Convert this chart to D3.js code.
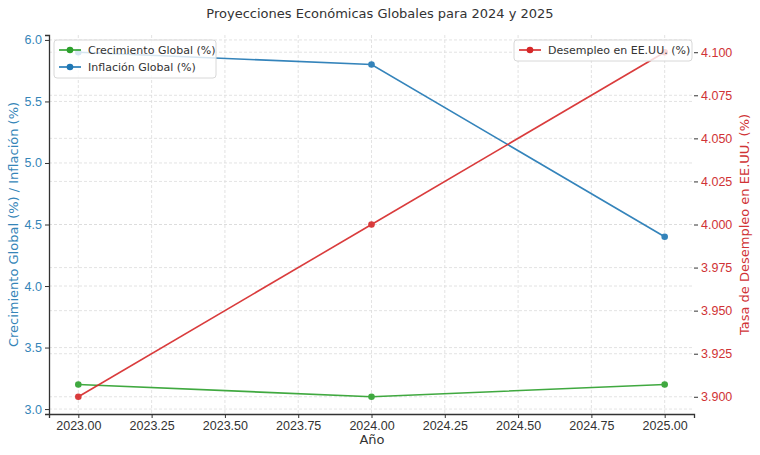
<!DOCTYPE html>
<html><head><meta charset="utf-8">
<script src="https://cdn.jsdelivr.net/npm/d3@7"></script>
<style>body{margin:0;background:#fff}svg{font-family:"DejaVu Sans",sans-serif}</style>
</head><body><svg id="c" width="760" height="455"></svg>
<script>
const years = [2023, 2024, 2025];
const growth = [3.2, 3.1, 3.2];
const inflation = [5.9, 5.8, 4.4];
const unemployment = [3.9, 4.0, 4.1];
const xTicks = [2023, 2023.25, 2023.5, 2023.75, 2024, 2024.25, 2024.5, 2024.75, 2025];
const leftTicks = [3.0, 3.5, 4.0, 4.5, 5.0, 5.5, 6.0];
const rightTicks = [3.900, 3.925, 3.950, 3.975, 4.000, 4.025, 4.050, 4.075, 4.100];

const svg = d3.select("#c");
const L = 49, R = 694, T = 35, B = 414;
const x = d3.scaleLinear().domain([2022.9, 2025.1]).range([L, R]);
const yL = d3.scaleLinear().domain([2.96, 6.04]).range([B, T]);
const yR = d3.scaleLinear().domain([3.89, 4.11]).range([B, T]);
const cGreen = "#2ca02c", cBlue = "#1f77b4", cRed = "#d62728";
const blueTxt = "#3585b8", redTxt = "#d03336";

const grid = svg.append("g").attr("stroke", "#dcdcdc").attr("stroke-dasharray", "3,2").attr("stroke-width", 0.8);
xTicks.forEach(t => grid.append("line").attr("x1", x(t)).attr("x2", x(t)).attr("y1", T).attr("y2", B));
leftTicks.forEach(t => grid.append("line").attr("x1", L).attr("x2", R).attr("y1", yL(t)).attr("y2", yL(t)));
rightTicks.forEach(t => grid.append("line").attr("x1", L).attr("x2", R).attr("y1", yR(t)).attr("y2", yR(t)));

// axes
const xAxis = svg.append("g").attr("transform", `translate(0,${B})`)
  .call(d3.axisBottom(x).tickValues(xTicks).tickFormat(d3.format(".2f")).tickSize(4).tickPadding(3));
xAxis.select(".domain").attr("stroke", "#333").attr("stroke-width", 1.3);
xAxis.selectAll(".tick line").attr("stroke", "#333");
xAxis.selectAll("text").attr("fill", "#333").attr("font-size", 12.5);

const lAxis = svg.append("g").attr("transform", `translate(${L},0)`)
  .call(d3.axisLeft(yL).tickValues(leftTicks).tickFormat(d3.format(".1f")).tickSize(4).tickPadding(3));
lAxis.select(".domain").attr("stroke", "#333").attr("stroke-width", 1.3);
lAxis.selectAll(".tick line").attr("stroke", "#333");
lAxis.selectAll("text").attr("fill", blueTxt).attr("font-size", 12.5);

const rAxis = svg.append("g").attr("transform", `translate(${R},0)`)
  .call(d3.axisRight(yR).tickValues(rightTicks).tickFormat(d3.format(".3f")).tickSize(4).tickPadding(3));
rAxis.select(".domain").remove();
rAxis.selectAll(".tick line").attr("stroke", "#333");
rAxis.selectAll("text").attr("fill", redTxt).attr("font-size", 12.5);

// series
function series(vals, yS, col) {
  const pts = years.map((yr, i) => [yr, vals[i]]);
  const g = svg.append("g").attr("opacity", 0.9);
  g.append("path").datum(pts).attr("fill", "none").attr("stroke", col).attr("stroke-width", 1.6)
    .attr("d", d3.line().x(d => x(d[0])).y(d => yS(d[1])));
  g.append("g").selectAll("circle").data(pts).join("circle")
    .attr("cx", d => x(d[0])).attr("cy", d => yS(d[1])).attr("r", 3.3).attr("fill", col);
}
series(growth, yL, cGreen);
series(inflation, yL, cBlue);
series(unemployment, yR, cRed);

// title & labels
svg.append("text").attr("x", 380).attr("y", 18).attr("text-anchor", "middle").attr("fill", "#333")
  .attr("font-size", 13).text("Proyecciones Económicas Globales para 2024 y 2025");
svg.append("text").attr("x", 372).attr("y", 444).attr("text-anchor", "middle").attr("fill", "#333")
  .attr("font-size", 13).text("Año");
svg.append("text").attr("transform", `translate(18,${(T+B)/2}) rotate(-90)`).attr("text-anchor", "middle")
  .attr("fill", blueTxt).attr("font-size", 13).text("Crecimiento Global (%) / Inflación (%)");
svg.append("text").attr("transform", `translate(749,${(T+B)/2}) rotate(-90)`).attr("text-anchor", "middle")
  .attr("fill", redTxt).attr("font-size", 13).text("Tasa de Desempleo en EE.UU. (%)");

// legends
function legend(x0, y0, w, items) {
  const g = svg.append("g");
  g.append("rect").attr("x", x0).attr("y", y0).attr("width", w).attr("height", items.length * 17 + 4)
    .attr("rx", 3).attr("fill", "rgba(255,255,255,0.8)").attr("stroke", "#d8d8d8");
  items.forEach((it, i) => {
    const cy = y0 + 10 + i * 17;
    g.append("line").attr("x1", x0 + 5).attr("x2", x0 + 27).attr("y1", cy).attr("y2", cy).attr("stroke", it[1]).attr("stroke-width", 1.6);
    g.append("circle").attr("cx", x0 + 16).attr("cy", cy).attr("r", 3.3).attr("fill", it[1]);
    g.append("text").attr("x", x0 + 34).attr("y", cy + 4).attr("fill", "#333").attr("font-size", 11).text(it[0]);
  });
}
legend(54, 40, 162, [["Crecimiento Global (%)", cGreen], ["Inflación Global (%)", cBlue]]);
legend(514, 40, 178, [["Desempleo en EE.UU. (%)", cRed]]);
</script></body></html>
